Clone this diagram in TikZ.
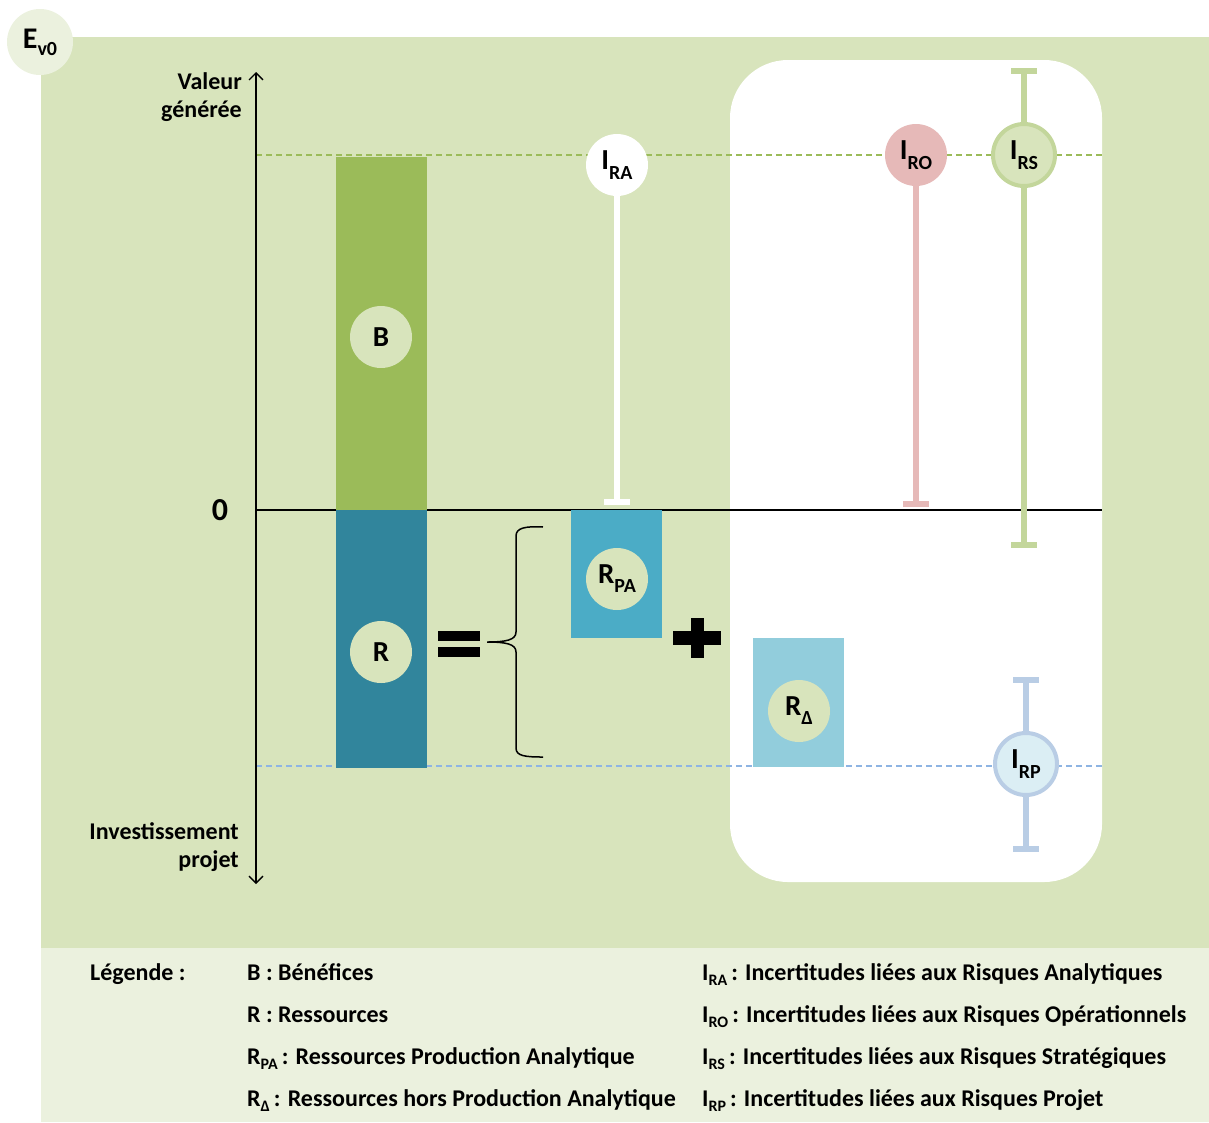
\documentclass[tikz,border=0pt]{standalone}
\usepackage{fontspec}
\setmainfont{Carlito}
\usetikzlibrary{arrows.meta}
\definecolor{bggreen}{HTML}{D8E4BC}
\definecolor{lightgreen}{HTML}{EBF1DE}
\definecolor{bcol}{HTML}{9BBB59}
\definecolor{rcol}{HTML}{31859C}
\definecolor{rpacol}{HTML}{4BACC6}
\definecolor{rdcol}{HTML}{92CDDC}
\definecolor{rocol}{HTML}{E6B9B8}
\definecolor{rscol}{HTML}{C3D69B}
\definecolor{rpcol}{HTML}{B9CDE5}
\definecolor{rpfill}{HTML}{DBEEF4}
\definecolor{bluedash}{HTML}{8EB4E3}
\newcommand\sbs[3]{\raisebox{-#2pt}{\fontsize{#1}{#1}\selectfont #3}}
\tikzset{
  bubble/.style={circle, minimum size=62pt, inner sep=0pt, font=\bfseries\fontsize{29}{29}\selectfont},
  legtext/.style={anchor=base west, inner sep=0pt, font=\bfseries\fontsize{24}{24}\selectfont},
  axlabel/.style={anchor=east, align=right, inner sep=0pt, font=\bfseries\fontsize{24}{28}\selectfont},
  whisker/.style={line width=6pt},
}
\begin{document}
\begin{tikzpicture}[x=1pt,y=-1pt]
\useasboundingbox (0,0) rectangle (1209,1122);
% backgrounds
\fill[bggreen] (41,37) rectangle (1209,948);
\fill[lightgreen] (41,948) rectangle (1209,1122);
\node[circle, fill=lightgreen, minimum size=66pt, inner sep=0pt, font=\bfseries\fontsize{30}{30}\selectfont] (ev) at (40,42) {E\sbs{20}{7}{v0}};
\fill[white, rounded corners=58pt] (730,60) rectangle (1102,882);
% dashed reference lines
\coordinate (gd0) at (256,155); \coordinate (gd1) at (1102,155);
\coordinate (bd0) at (256,766); \coordinate (bd1) at (1102,766);
\draw[bcol, line width=1.3pt, dash pattern=on 6pt off 4pt] (gd0) -- (gd1);
\draw[bluedash, line width=1.3pt, dash pattern=on 6pt off 4pt] (bd0) -- (bd1);
% axes
\coordinate (axtop) at (256,72); \coordinate (axbot) at (256,884);
\draw[line width=1.4pt, {Straight Barb[length=7pt,width=14pt]}-{Straight Barb[length=7pt,width=14pt]}] (axbot) -- (axtop);
\coordinate (z0) at (256,510); \coordinate (z1) at (1102,510);
\draw[line width=1.5pt] (z0) -- (z1);
\node[axlabel] (val) at (242,97) {Valeur\\générée};
\node[axlabel] (inv) at (239,847) {Investissement\\projet};
\node[inner sep=0pt, font=\bfseries\fontsize{32}{32}\selectfont] (zero) at (220,510) {0};
% bars
\fill[bcol] (336,157) rectangle (427,510);
\fill[rcol] (336,510) rectangle (427,768);
\fill[rpacol] (571,510) rectangle (662,638);
\fill[rdcol] (753,638) rectangle (844,767);
\node[bubble, fill=bggreen] (b) at (381,337) {B};
\node[bubble, fill=bggreen] (r) at (381,652) {R};
\node[bubble, fill=bggreen] (rpa) at (617,579) {R\sbs{20}{9}{PA}};
\node[bubble, fill=bggreen] (rd) at (799,711) {R\sbs{20}{9}{Δ}};
% equal, brace, plus
\fill (438,631) rectangle (480,641);
\fill (438,647) rectangle (480,657);
\draw[line width=1.5pt] (543,527) .. controls (525,526) and (516,528) .. (516,536) -- (516,632)
  .. controls (516,640) and (506,642) .. (487,642)
  .. controls (506,642) and (516,644) .. (516,652) -- (516,748)
  .. controls (516,756) and (525,757) .. (543,757);
\fill (673,631) rectangle (721,645);
\fill (691,618) rectangle (704,658);
% I_RA
\coordinate (raEnd) at (617,502);
\draw[white, whisker] (617,190) -- (raEnd);
\draw[white, whisker] ([xshift=-13pt]raEnd) -- ([xshift=13pt]raEnd);
\node[bubble, fill=white] (ira) at (617,165) {I\sbs{20}{10}{RA}};
% I_RO
\coordinate (roEnd) at (916,504);
\draw[rocol, whisker] (916,180) -- (roEnd);
\draw[rocol, whisker] ([xshift=-13pt]roEnd) -- ([xshift=13pt]roEnd);
\node[bubble, fill=rocol] (iro) at (916,155) {I\sbs{20}{10}{RO}};
% I_RS
\coordinate (rsTop) at (1024,71); \coordinate (rsBot) at (1024,545);
\draw[rscol, whisker] (rsTop) -- (rsBot);
\draw[rscol, whisker] ([xshift=-13pt]rsTop) -- ([xshift=13pt]rsTop);
\draw[rscol, whisker] ([xshift=-13pt]rsBot) -- ([xshift=13pt]rsBot);
\node[bubble, fill=bggreen, draw=rscol, line width=4pt, minimum size=62pt] (irs) at (1024,155) {I\sbs{20}{10}{RS}};
% I_RP
\coordinate (rpTop) at (1026,680); \coordinate (rpBot) at (1026,849);
\draw[rpcol, whisker] (rpTop) -- (rpBot);
\draw[rpcol, whisker] ([xshift=-13pt]rpTop) -- ([xshift=13pt]rpTop);
\draw[rpcol, whisker] ([xshift=-13pt]rpBot) -- ([xshift=13pt]rpBot);
\node[bubble, fill=rpfill, draw=rpcol, line width=4pt] (irp) at (1026,764) {I\sbs{20}{10}{RP}};
% legend
\node[legtext] (leg) at (90,980) {Légende :};
\node[legtext] (l1) at (247,980) {B : Bénéfices};
\node[legtext] (l2) at (247,1022) {R : Ressources};
\node[legtext] (l3) at (247,1064) {R\sbs{16}{5}{PA}\,: Ressources Production Analytique};
\node[legtext] (l4) at (247,1106) {R\sbs{16}{5}{Δ}\,: Ressources hors Production Analytique};
\node[legtext] (m1) at (702,980) {I\sbs{16}{5}{RA}\,: Incertitudes liées aux Risques Analytiques};
\node[legtext] (m2) at (702,1022) {I\sbs{16}{5}{RO}\,: Incertitudes liées aux Risques Opérationnels};
\node[legtext] (m3) at (702,1064) {I\sbs{16}{5}{RS}\,: Incertitudes liées aux Risques Stratégiques};
\node[legtext] (m4) at (702,1106) {I\sbs{16}{5}{RP}\,: Incertitudes liées aux Risques Projet};
\end{tikzpicture}
\end{document}
